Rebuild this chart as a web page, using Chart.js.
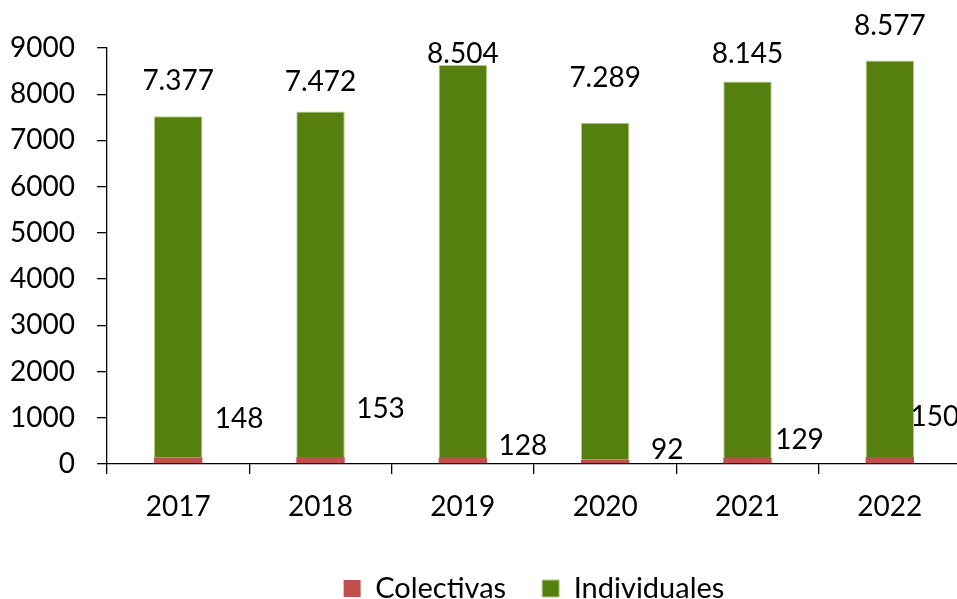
<!DOCTYPE html>
<html>
<head>
<meta charset="utf-8">
<script src="https://cdn.jsdelivr.net/npm/chart.js@4.4.1/dist/chart.umd.min.js"></script>
<style>
  html, body { margin: 0; padding: 0; background: #fff; overflow: hidden; }
  #wrap { width: 966px; height: 599px; position: relative; }
</style>
</head>
<body>
<div id="wrap"><canvas id="myChart"></canvas></div>
<script>
// datos
var years = ["2017", "2018", "2019", "2020", "2021", "2022"];
var colectivas = [148, 153, 128, 92, 129, 150];
var individuales = [7377, 7472, 8504, 7289, 8145, 8577];
var yMax = 9000;
var yStep = 1000;

var FONT = "Lato, 'Open Sans', sans-serif";

function miles(v) {
    return String(v).replace(/\B(?=(\d{3})+(?!\d))/g, ".");
}

// etiquetas colocadas a mano, como en el original
var labelPlugin = {
    id: "valueLabels",
    afterDatasetsDraw: function (chart, args, opts) {
        var ctx = chart.ctx;
        var zeroY = chart.scales.y.getPixelForValue(0);
        var metaC = chart.getDatasetMeta(0);
        var metaI = chart.getDatasetMeta(1);
        ctx.save();
        ctx.font = "28px " + FONT;
        ctx.fillStyle = "#000";
        ctx.textAlign = "center";
        ctx.textBaseline = "middle";
        metaI.data.forEach(function (bar, i) {
            ctx.fillText(miles(individuales[i]), bar.x, bar.y - opts.topGap[i]);
        });
        metaC.data.forEach(function (bar, i) {
            ctx.fillText(miles(colectivas[i]), bar.x + opts.sideDx[i], zeroY - opts.sideDy[i]);
        });
        ctx.restore();
    }
};

var ctx = document.getElementById("myChart").getContext("2d");
var config = {
    type: "bar",
    data: {
        labels: years,
        datasets: [{
            label: "Colectivas",
            data: colectivas,
            backgroundColor: "#C0504D",
            borderWidth: 0,
            barPercentage: 0.34,
            categoryPercentage: 1
        }, {
            label: "Individuales",
            data: individuales,
            backgroundColor: "#55800F",
            borderColor: "#B3CC8A",
            borderWidth: 1,
            barPercentage: 0.34,
            categoryPercentage: 1
        }]
    },
    options: {
        responsive: true,
        maintainAspectRatio: false,
        animation: false,
        layout: { padding: { left: 0, right: 5, top: 48, bottom: -14 } },
        scales: {
            x: {
                stacked: true,
                grid: { drawOnChartArea: false, offset: true, tickLength: 10, color: "#000", lineWidth: 1.3 },
                border: { color: "#000", width: 1.3 },
                ticks: { color: "#000", font: { family: FONT, size: 28 }, padding: 16 },
                afterFit: function (s) { s.height = 74; }
            },
            y: {
                stacked: true,
                min: 0,
                max: yMax,
                grid: { drawOnChartArea: false, tickLength: 10, color: "#000", lineWidth: 1.3 },
                border: { color: "#000", width: 1.3 },
                ticks: {
                    stepSize: yStep,
                    color: "#000",
                    font: { family: FONT, size: 28 },
                    padding: 22,
                    callback: function (v) { return String(v); }
                },
                afterFit: function (s) { s.width = 107; }
            }
        },
        plugins: {
            legend: {
                position: "bottom",
                fullSize: false,
                labels: {
                    color: "#000",
                    font: { family: FONT, size: 29 },
                    boxWidth: 17,
                    boxHeight: 17,
                    padding: 36
                }
            },
            tooltip: { enabled: false },
            valueLabels: {
                topGap: [35, 30, 11, 45, 28, 35],
                sideDx: [61, 60, 60, 62, 52, 45],
                sideDy: [45, 55, 18, 14, 24, 47]
            }
        }
    },
    plugins: [labelPlugin]
};

var myChart_new = new Chart(ctx, config);
</script>
</body>
</html>
